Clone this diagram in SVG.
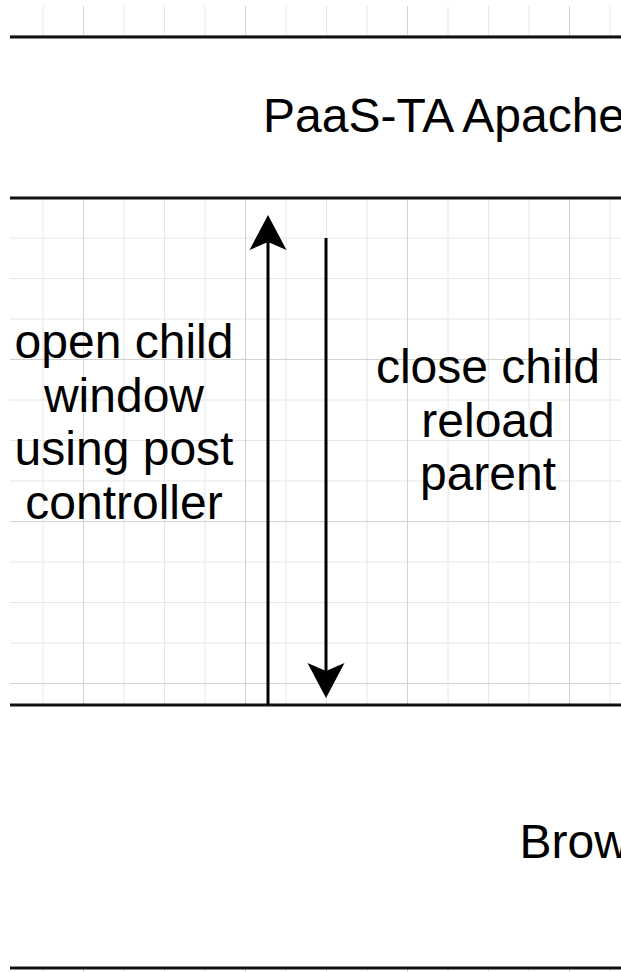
<svg xmlns="http://www.w3.org/2000/svg" width="621" height="972" viewBox="0 0 621 972">
<style>
.minor{stroke:#e6e6e6;stroke-width:1}
.major{stroke:#d2d2d2;stroke-width:1}
.border{stroke:#111;stroke-width:3}
.lbl{font-family:"Liberation Sans",Arial,sans-serif;font-size:48px;fill:#000}
.shaft{stroke:#000;stroke-width:3;fill:none}
</style>
<defs>
<pattern id="grid" x="2" y="35" width="162" height="162" patternUnits="userSpaceOnUse">
<path class="minor" d="M0.5,0V162M41,0V162M81.5,0V162M122,0V162M0,0.5H162M0,41H162M0,81.5H162M0,122H162"/>
<path class="major" d="M81.5,0V162M0,0.5H162"/>
</pattern>
<marker id="ah" viewBox="-10 -20 45 40" refX="0" refY="0" markerWidth="45" markerHeight="40" markerUnits="userSpaceOnUse" orient="auto" overflow="visible">
<path d="M-8,-18.5L27,0L-8,18.5L0,0Z" fill="#000"/>
</marker>
</defs>
<rect width="621" height="972" fill="#fff"/>
<rect x="10" y="6" width="611" height="966" fill="url(#grid)"/>
<g id="paas">
<rect x="10" y="37" width="611" height="161" fill="#fff"/>
<line class="border" x1="10" y1="37" x2="621" y2="37"/>
<line class="border" x1="10" y1="198" x2="621" y2="198"/>
<text class="lbl" x="263" y="132">PaaS-TA Apache</text>
</g>
<g id="browser">
<rect x="10" y="705" width="611" height="263" fill="#fff"/>
<line class="border" x1="10" y1="705" x2="621" y2="705"/>
<line class="border" x1="10" y1="968" x2="621" y2="968"/>
<text class="lbl" x="519.5" y="858">Browser</text>
</g>
<g id="connectors">
<line class="shaft" x1="268" y1="705" x2="268" y2="242" marker-end="url(#ah)"/>
<line class="shaft" x1="326" y1="238" x2="326" y2="671" marker-end="url(#ah)"/>
<text class="lbl" text-anchor="middle" x="124"><tspan x="124" y="358">open child</tspan><tspan x="124" y="411.5">window</tspan><tspan x="124" y="465">using post</tspan><tspan x="124" y="518.5">controller</tspan></text>
<text class="lbl" text-anchor="middle" x="488"><tspan x="488" y="383">close child</tspan><tspan x="488" y="436.5">reload</tspan><tspan x="488" y="490">parent</tspan></text>
</g>
</svg>
